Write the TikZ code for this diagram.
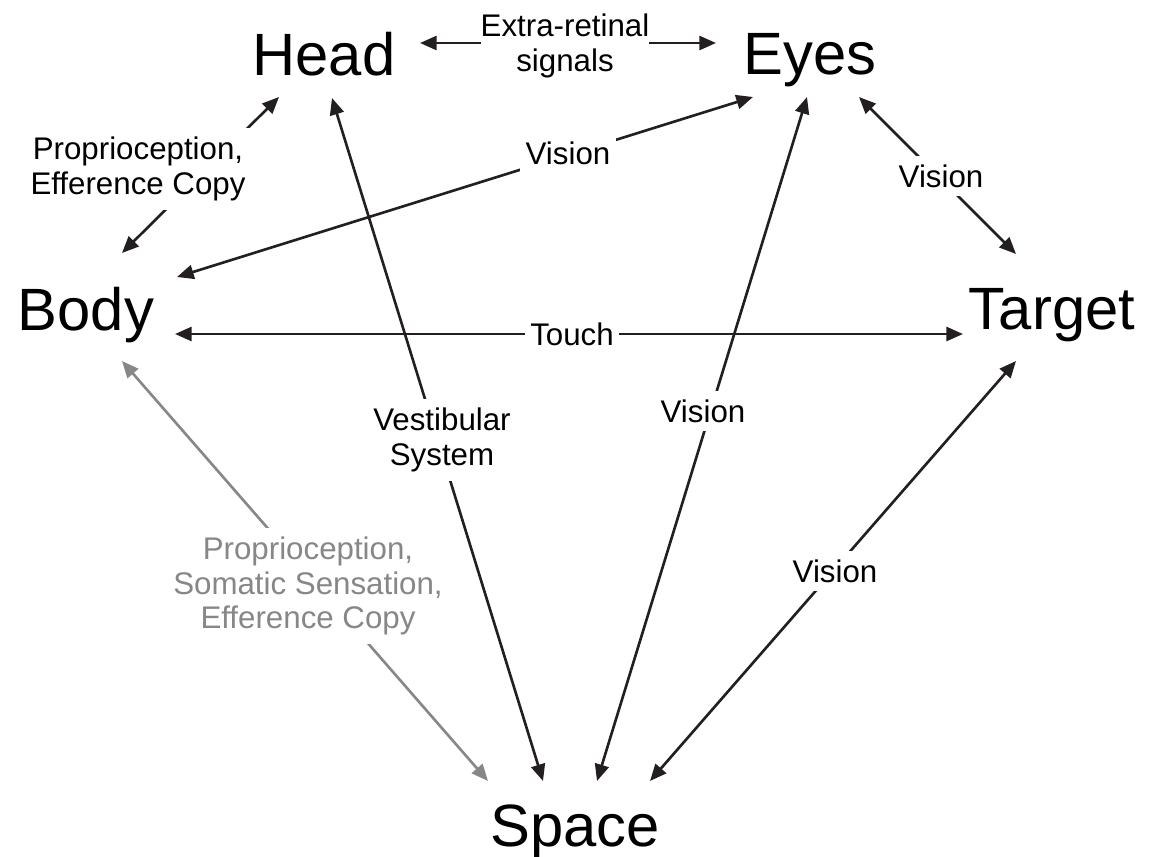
\documentclass[tikz,border=0pt]{standalone}
\usepackage{fontspec}
\setmainfont{Liberation Sans}
\usetikzlibrary{arrows.meta,calc}

\definecolor{ink}{HTML}{231F20}
\definecolor{inkgray}{HTML}{878787}

\begin{document}
\begin{tikzpicture}[x=0.02cm, y=-0.02cm,
  big/.style={font=\fontsize{34}{40}\selectfont, inner sep=0pt, anchor=base},
  lab/.style={font=\fontsize{17.8}{19.8}\selectfont, align=center, fill=white, inner xsep=3pt, inner ysep=5pt},
  link/.style={ink, line width=1.5pt, {Triangle[length=9.5pt,width=8pt]}-{Triangle[length=9.5pt,width=8pt]}}]
  \useasboundingbox (0,0) rectangle (1156,856);
  % Frames of reference
  \node[big] (head) at (324,75) {Head};
  \node[big] (eyes) at (810,74) {Eyes};
  \node[big] (body) at (86,330) {Body};
  \node[big] (target) at (1052,329) {Target};
  \node[big] (space) at (575,846) {Space};
  % Links
  \draw[link] ($(head.base)+(96,-32)$) -- ($(eyes.base)+(-94,-31)$);
  \draw[link] ($(body.base)+(36,-77)$) -- ($(head.base)+(-45,22)$);
  \draw[link] ($(body.base)+(91,-53)$) -- ($(eyes.base)+(-57,23)$);
  \draw[link] ($(eyes.base)+(49,23)$) -- ($(target.base)+(-36,-75)$);
  \draw[link] ($(body.base)+(89,4)$) -- ($(target.base)+(-89,5)$);
  \draw[link] ($(head.base)+(8,23)$) -- ($(space.base)+(-32,-65)$);
  \draw[link] ($(eyes.base)+(-3,23)$) -- ($(space.base)+(22,-65)$);
  \draw[link] ($(target.base)+(-36,32)$) -- ($(space.base)+(75,-65)$);
  \draw[link, inkgray] ($(body.base)+(36,31)$) -- ($(space.base)+(-87,-65)$);
  % Labels
  \node[lab, inner xsep=0pt] (lextra) at (565,46) {Extra-retinal\\signals};
  \node[lab] (lpropa) at (138,169) {Proprioception,\\Efference Copy};
  \node[lab] (lvisbe) at (568,153) {Vision};
  \node[lab] (lviset) at (941,176) {Vision};
  \node[lab] (ltouch) at (572,334) {Touch};
  \node[lab] (lvest) at (442,440) {Vestibular\\System};
  \node[lab] (lvises) at (703,411) {Vision};
  \node[lab] (lvists) at (835,571) {Vision};
  \node[lab, text=inkgray] (lpropb) at (308,586) {Proprioception,\\Somatic Sensation,\\Efference Copy};
\end{tikzpicture}
\end{document}
